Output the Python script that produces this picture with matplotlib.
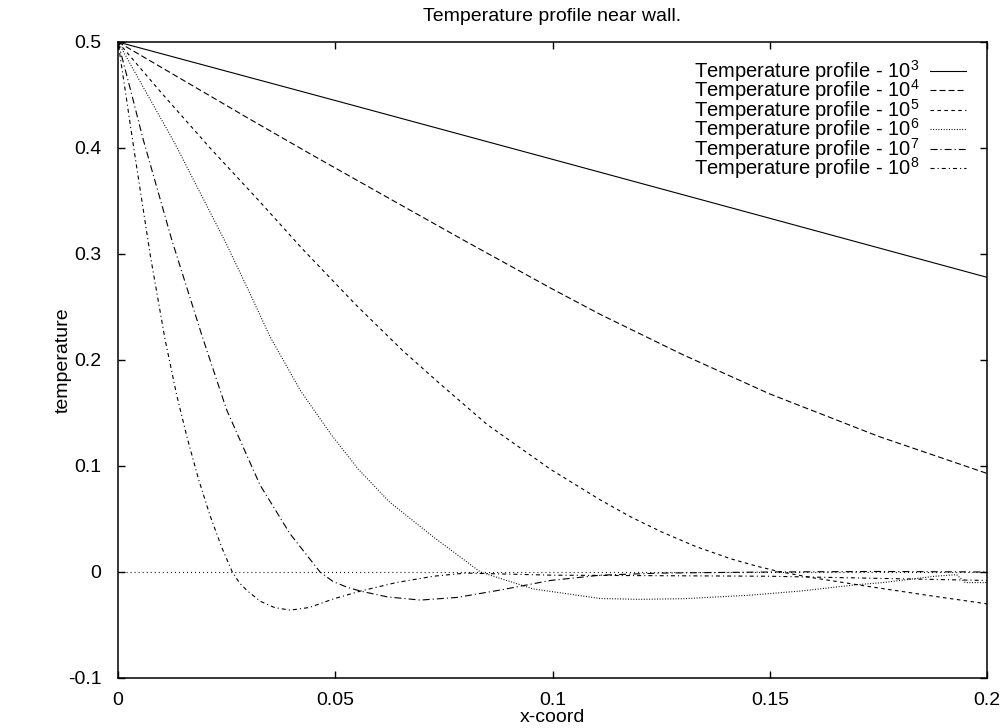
import matplotlib
matplotlib.use('Agg')
import matplotlib.pyplot as plt

plt.rcParams['font.family'] = ['Liberation Sans', 'DejaVu Sans']
plt.rcParams['mathtext.fontset'] = 'custom'
plt.rcParams['mathtext.rm'] = 'Liberation Sans'
plt.rcParams['mathtext.it'] = 'Liberation Sans:italic'
plt.rcParams['mathtext.bf'] = 'Liberation Sans:bold'
plt.rcParams['lines.scale_dashes'] = False

# values
x_1e3 = [0, 0.05, 0.1, 0.15, 0.2]
t_1e3 = [0.5, 0.4448, 0.3893, 0.3337, 0.278]

x_1e4 = [0, 0.01, 0.02, 0.03, 0.044, 0.06, 0.08, 0.0995, 0.111, 0.13, 0.15, 0.175, 0.2]
t_1e4 = [0.5, 0.476, 0.452, 0.428, 0.395, 0.358, 0.312, 0.268, 0.243, 0.205, 0.168, 0.128, 0.093]

x_1e5 = [0, 0.01, 0.0212, 0.0325, 0.0424, 0.055, 0.0655, 0.0737, 0.085, 0.0995, 0.111,
         0.118, 0.125, 0.133, 0.141, 0.147, 0.152, 0.16, 0.1725, 0.188, 0.2]
t_1e5 = [0.5, 0.452, 0.400, 0.350, 0.305, 0.251, 0.209, 0.179, 0.139, 0.097, 0.068,
         0.052, 0.038, 0.024, 0.0125, 0.0055, 0.0005, -0.0055, -0.0135, -0.023, -0.030]

x_1e6 = [0, 0.006, 0.013, 0.019, 0.025, 0.030, 0.035, 0.042, 0.049, 0.0553, 0.0625, 0.0726,
         0.0834, 0.0956, 0.111, 0.12, 0.13, 0.145, 0.157, 0.17, 0.176, 0.188, 0.193, 0.195, 0.2]
t_1e6 = [0.5, 0.456, 0.405, 0.357, 0.309, 0.266, 0.222, 0.171, 0.130, 0.097, 0.066, 0.033,
         0.0, -0.016, -0.025, -0.0258, -0.0252, -0.022, -0.018, -0.012, -0.010, -0.004, -0.0025, -0.010, -0.010]

x_1e7 = [0, 0.003, 0.0058, 0.0124, 0.0194, 0.025, 0.029, 0.0327, 0.0396, 0.0465, 0.0495, 0.0528,
         0.0558, 0.062, 0.0696, 0.078, 0.088, 0.0995, 0.111, 0.125, 0.15, 0.175, 0.2]
t_1e7 = [0.5, 0.453, 0.408, 0.313, 0.222, 0.153, 0.116, 0.082, 0.036, 0.0, -0.009, -0.0145,
         -0.018, -0.0235, -0.0265, -0.024, -0.017, -0.008, -0.003, -0.001, 0.0, 0.0005, 0.0]

x_1e8 = [0, 0.0037, 0.0075, 0.0108, 0.0135, 0.0159, 0.0185, 0.0212, 0.0238, 0.0263, 0.028,
         0.0297, 0.0327, 0.036, 0.0396, 0.044, 0.0495, 0.0558, 0.064, 0.0726, 0.08, 0.09,
         0.1, 0.125, 0.15, 0.175, 0.2]
t_1e8 = [0.5, 0.398, 0.297, 0.220, 0.167, 0.127, 0.088, 0.053, 0.024, 0.0, -0.0105,
         -0.0175, -0.0275, -0.0335, -0.036, -0.0335, -0.0255, -0.018, -0.010, -0.004, -0.001, -0.002,
         -0.003, -0.0035, -0.004, -0.006, -0.008]

exponents = ['3', '4', '5', '6', '7', '8']
xticks = [0, 0.05, 0.1, 0.15, 0.2]
xtick_labels = ['0', '0.05', '0.1', '0.15', '0.2']
yticks = [-0.1, 0, 0.1, 0.2, 0.3, 0.4, 0.5]
ytick_labels = ['-0.1', '0', '0.1', '0.2', '0.3', '0.4', '0.5']

series = [(x_1e3, t_1e3), (x_1e4, t_1e4), (x_1e5, t_1e5),
          (x_1e6, t_1e6), (x_1e7, t_1e7), (x_1e8, t_1e8)]
styles = ['-', (0, (4.3, 2.2)), (0, (2.5, 2.5)), (0, (0.7, 1.2)),
          (0, (5, 2.2, 0.8, 2.2)), (0, (2.9, 2.2, 0.8, 2.2))]

fig = plt.figure(figsize=(10.05, 7.28), dpi=100)
ax = fig.add_axes([118 / 1005, 1 - 678 / 728, (987 - 118) / 1005, (678 - 42) / 728])

ax.axhline(0, color='black', lw=0.8, ls=(0, (0.7, 2.2)))

for (xs, ts), st, e in zip(series, styles, exponents):
    ax.plot(xs, ts, color='black', lw=0.8, ls=st,
            label='Temperature profile - 10$^{%s}$' % e)

ax.set_xlim(0, 0.2)
ax.set_ylim(-0.1, 0.5)
ax.set_xticks(xticks)
ax.set_xticklabels(xtick_labels)
ax.set_yticks(yticks)
ax.set_yticklabels(ytick_labels)
ax.tick_params(direction='in', top=True, right=True, length=5, width=1,
               labelsize=14, colors='black')
ax.tick_params(axis='x', pad=10)
ax.tick_params(axis='y', pad=12)
for sp in ax.spines.values():
    sp.set_linewidth(1.1)

ax.set_title('Temperature profile near wall.', fontsize=14, pad=15)
ax.set_xlabel('x-coord', fontsize=14, labelpad=0)
ax.set_ylabel('temperature', fontsize=14, labelpad=-3)

ax.legend(loc='upper right', bbox_to_anchor=(966 / 1005, 1 - 58 / 728),
          bbox_transform=fig.transFigure, frameon=False, markerfirst=False,
          fontsize=14.5, handlelength=1.8, handletextpad=0.5, labelspacing=-0.318,
          borderpad=0, borderaxespad=0)

fig.savefig('out.png', dpi=100)
